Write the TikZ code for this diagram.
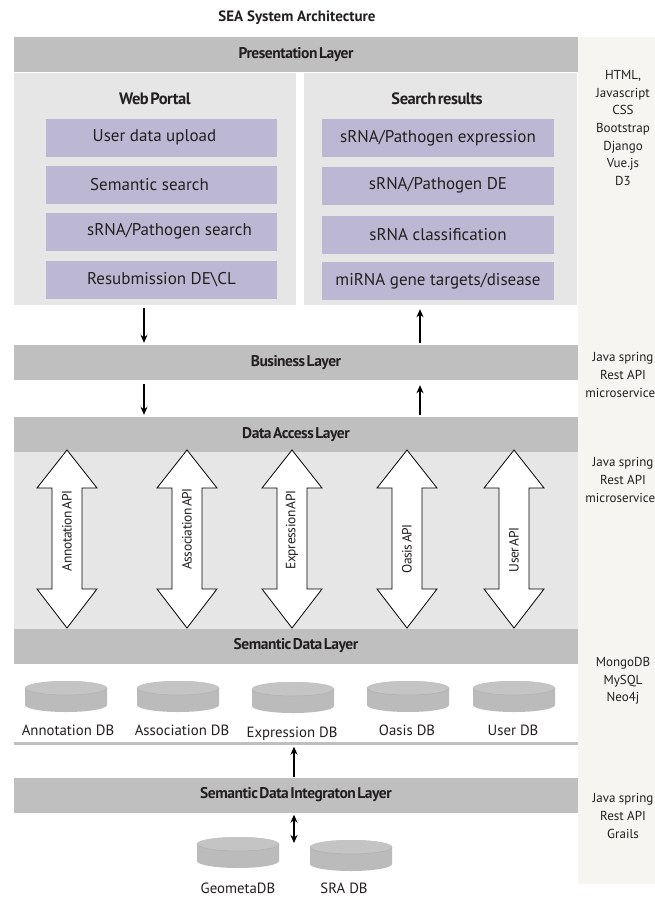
\documentclass[tikz,border=0pt]{standalone}
\usepackage{fontspec}
\setmainfont{PT Sans}
\newfontfamily\tightfont[LetterSpace=-3,WordSpace=0.45]{PT Sans}
\usetikzlibrary{arrows.meta}

\definecolor{bargray}{HTML}{BFBFBF}
\definecolor{panelgray}{HTML}{E6E6E6}
\definecolor{boxpurple}{HTML}{BCB8D3}
\definecolor{sidebg}{HTML}{F6F5F2}
\definecolor{dbgray}{HTML}{BBBBBB}
\definecolor{dbtop}{HTML}{C4C4C4}
\definecolor{dbedge}{HTML}{B2B2B2}
\definecolor{txt}{HTML}{231F20}

\begin{document}
\begin{tikzpicture}[x=1pt,y=-1pt,
  every node/.style={text=txt},
  layerbar/.style={fill=bargray, minimum width=564pt, minimum height=35pt, inner sep=0pt,
    font=\tightfont\bfseries\fontsize{15.5}{17}\selectfont},
  panel/.style={fill=panelgray, inner sep=0pt},
  header/.style={font=\tightfont\bfseries\fontsize{16.5}{18}\selectfont, inner sep=0pt},
  itembox/.style={fill=boxpurple, minimum width=231pt, minimum height=38pt, inner sep=0pt},
  itemtext/.style={font=\fontsize{17}{19}\selectfont, inner sep=0pt},
  sidetext/.style={align=center, inner sep=0pt, font=\fontsize{13}{17.6}\selectfont},
  apiarrow/.style={draw=black, fill=white, line width=0.8pt, line join=miter},
  apilabel/.style={rotate=90, inner sep=0pt, font=\tightfont\fontsize{13.5}{15}\selectfont},
  dbnode/.style={minimum width=82pt, minimum height=31pt, inner sep=0pt},
  dblabel/.style={inner sep=0pt, font=\fontsize{14.8}{16}\selectfont},
  flow/.style={line width=1.8pt, -{Stealth[length=8pt,width=7pt]}},
  flowboth/.style={line width=1.8pt, {Stealth[length=8pt,width=7pt]}-{Stealth[length=8pt,width=7pt]}}
]
\useasboundingbox (0,0) rectangle (655,897);
\clip (0,0) rectangle (655,897);
\fill[white] (0,0) rectangle (655,897);

% technology column on the right
\node[fill=sidebg, minimum width=77pt, minimum height=847pt, inner sep=0pt] (side) at (616.5,460.5) {};

% title
\node[font=\bfseries\fontsize{15}{17}\selectfont] (title) at (297,18) {SEA System Architecture};

% presentation layer
\node[layerbar] (pres) at (296,54.5) {Presentation Layer};
\node[panel, minimum width=282pt, minimum height=232pt] (wp) at (155,189) {};
\node[panel, minimum width=273pt, minimum height=232pt] (sr) at (440.5,189) {};
\node[header] (wph) at (155,99) {Web Portal};
\node[header] (srh) at (437,99) {Search results};

% web portal items
\node[itembox] (wp1) at (161.5,137.5) {};
\node[itembox] (wp2) at (161.5,185) {};
\node[itembox] (wp3) at (161.5,231.5) {};
\node[itembox] (wp4) at (161.5,280) {};
\node[itemtext] (wp1t) at ([xshift=-7pt]wp1.center) {User data upload};
\node[itemtext] (wp2t) at ([xshift=-12pt]wp2.center) {Semantic search};
\node[itemtext] (wp3t) at ([xshift=8pt]wp3.center) {sRNA/Pathogen search};
\node[itemtext] (wp4t) at (wp4.center) {Resubmission DE\textbackslash CL};

% search result items
\node[itembox, itemtext, minimum width=232pt] (sr1) at (438,138) {sRNA/Pathogen expression};
\node[itembox, itemtext, minimum width=232pt] (sr2) at (438,185.5) {sRNA/Pathogen DE};
\node[itembox, itemtext, minimum width=232pt] (sr3) at (438,234.5) {sRNA classification};
\node[itembox, itemtext, minimum width=232pt] (sr4) at (438,281) {miRNA gene targets/disease};

% business and data access layers
\node[layerbar] (biz) at (296,362.5) {Business Layer};
\node[layerbar] (dal) at (296,434.5) {Data Access Layer};

\coordinate (xl) at (144,0);
\coordinate (xr) at (420,0);
\draw[flow] ([yshift=-3pt]wp.south -| xl) -- ([yshift=2pt]biz.north -| xl);
\draw[flow] ([yshift=2pt]biz.north -| xr) -- ([yshift=-4pt]sr.south -| xr);
\draw[flow] ([yshift=-4pt]biz.south -| xl) -- ([yshift=2pt]dal.north -| xl);
\draw[flow] ([yshift=2pt]dal.north -| xr) -- ([yshift=-5pt]biz.south -| xr);

% API layer
\node[panel, minimum width=564pt, minimum height=177pt] (apis) at (296,540.5) {};
\foreach \c/\ty/\nm/\lab in {67/531/annapi/Annotation API, 187/529/assapi/Association API,
    292/530/expapi/Expression API, 407/549/oasapi/Oasis API, 514/550/usrapi/User API} {
  \draw[apiarrow] (\c,450) -- (\c+30,488) -- (\c+15,488) -- (\c+15,589) -- (\c+30,589)
    -- (\c,628) -- (\c-30,589) -- (\c-15,589) -- (\c-15,488) -- (\c-30,488) -- cycle;
  \node[apilabel] (\nm) at (\c,\ty) {\lab};
}

% semantic data layer
\node[layerbar] (sdl) at (296,646) {Semantic Data Layer};

% database cylinders
\foreach \nm/\cx/\cy in {anndb/66/696.5, assdb/178/696.5, expdb/293/697.5, oasdb/408/696.5,
    usrdb/514/696.5, geodb/238/852.5, sradb/351/855.5} {
  \node[dbnode] (\nm) at (\cx,\cy) {};
  \fill[dbgray] (\cx-41,\cy-8.5) -- (\cx-41,\cy+8.5)
    arc[start angle=180, end angle=0, x radius=41, y radius=7]
    -- (\cx+41,\cy-8.5)
    arc[start angle=0, end angle=-180, x radius=41, y radius=7] -- cycle;
  \fill[dbtop] (\cx,\cy-8.5) ellipse[x radius=41, y radius=7];
  \draw[dbedge, line width=0.6pt] (\cx-41,\cy-8.5)
    arc[start angle=180, end angle=0, x radius=41, y radius=7];
}
\node[dblabel] (anndbl) at (68,730) {Annotation DB};
\node[dblabel] (assdbl) at (182,730) {Association DB};
\node[dblabel] (expdbl) at (292,734) {Expression DB};
\node[dblabel] (oasdbl) at (407,730) {Oasis DB};
\node[dblabel] (usrdbl) at (513,730) {User DB};
\node[fill=bargray, minimum width=564pt, minimum height=3pt, inner sep=0pt] (dbline) at (296,743) {};

% integration layer and external sources
\node[layerbar] (sdi) at (296,795) {Semantic Data Integraton Layer};
\coordinate (xm) at (294,0);
\draw[flow] (sdi.north -| xm) -- ([yshift=-2pt]dbline.south -| xm);
\coordinate (srcin) at (294,843);
\draw[flowboth] ([yshift=-2pt]sdi.south -| xm) -- (srcin);
\node[dblabel] (geodbl) at (238,888) {GeometaDB};
\node[dblabel] (sradbl) at (344,888) {SRA DB};

% technology stacks
\node[sidetext] (tech1) at (623,128) {HTML,\\Javascript\\CSS\\Bootstrap\\Django\\Vue.js\\D3};
\node[sidetext] (tech2) at (623,375) {Java spring\\Rest API\\microservices};
\node[sidetext] (tech3) at (623,480) {Java spring\\Rest API\\microservices};
\node[sidetext] (tech4) at (623,681) {MongoDB\\MySQL\\Neo4j};
\node[sidetext] (tech5) at (623,816) {Java spring\\Rest API\\Grails};
\end{tikzpicture}
\end{document}
